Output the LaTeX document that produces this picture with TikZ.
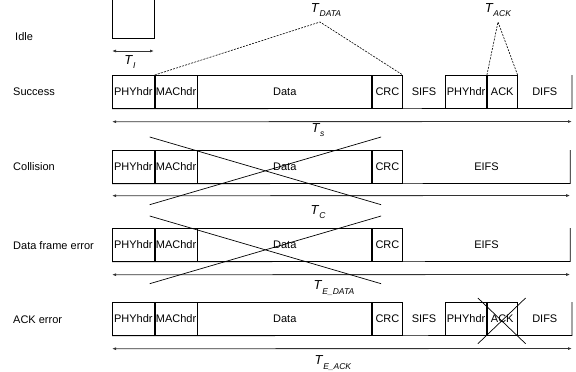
\documentclass[tikz,border=0pt]{standalone}
\usepackage{fontspec}
\setmainfont{Liberation Sans}
\usetikzlibrary{arrows.meta,positioning}

\newcommand{\tlab}[1]{\textit{T}\raisebox{-0.6ex}{\fontsize{8.5}{9}\selectfont\textit{#1}}}

\begin{document}
\begin{tikzpicture}[x=1pt,y=-1pt,>={Latex[length=4pt,width=3pt]},
    field/.style={draw,line width=0.7pt,minimum height=33pt,inner sep=0pt,
                  font=\fontsize{11}{12}\selectfont},
    gap/.style={minimum height=33pt,inner sep=0pt,font=\fontsize{11}{12}\selectfont},
    rowlabel/.style={anchor=west,inner sep=0pt,font=\fontsize{11}{12}\selectfont},
    tlabel/.style={inner sep=0pt,font=\fontsize{13}{14}\selectfont},
    span/.style={<->,line width=0.8pt,black!80},
    cross/.style={line width=0.7pt},
    bracket/.style={line width=0.6pt,dash pattern=on 2pt off 1.2pt}]
    \useasboundingbox (0,0) rectangle (576,372);

    % idle slot
    \node[rowlabel] (l_idle) at (15,37) {Idle};
    \coordinate (i_ta) at (112,-2);
    \coordinate (i_tb) at (154,-2);
    \coordinate (i_a) at (112,38);
    \coordinate (i_b) at (154,38);
    \draw[line width=0.7pt] (i_ta) -- (i_a) -- (i_b) -- (i_tb);
    \draw[span] ([yshift=-13pt]i_a) -- ([yshift=-13pt]i_b);
    \node[tlabel] (t_i) at (130,62) {\tlab{I}};

    % success
    \node[rowlabel] (l_s) at (13,92) {Success};
    \node[field,minimum width=42pt,anchor=north west] (s_phy) at (112,75) {PHYhdr};
    \node[field,minimum width=42pt,right=0pt of s_phy]  (s_mac)  {MAChdr};
    \node[field,minimum width=174pt,right=0pt of s_mac] (s_data) {Data};
    \node[field,minimum width=30pt,right=0pt of s_data] (s_crc)  {CRC};
    \node[gap,minimum width=42pt,right=0pt of s_crc]    (s_sifs) {SIFS};
    \node[field,minimum width=41pt,right=0pt of s_sifs] (s_aphy) {PHYhdr};
    \node[field,minimum width=30pt,right=0pt of s_aphy] (s_ack)  {ACK};
    \node[gap,minimum width=54pt,right=0pt of s_ack]    (s_difs) {DIFS};
    \draw[line width=0.7pt] (s_phy.south west) -- (s_difs.south east) -- (s_difs.north east);
    \draw[span] ([yshift=-13pt]s_phy.south west) -- ([yshift=-13pt]s_difs.south east);
    \node[tlabel] (t_s) at (318,130) {\tlab{s}};

    \node[tlabel] (t_data) at (326,10) {\tlab{DATA}};
    \coordinate (d_top) at (320,22);
    \draw[bracket] (s_mac.north west) -- (d_top) -- (s_crc.north east);
    \node[tlabel] (t_ack) at (498,10) {\tlab{ACK}};
    \coordinate (a_top) at (498,22);
    \draw[bracket] (s_ack.north west) -- (a_top) -- (s_ack.north east);

    % collision
    \node[rowlabel] (l_c) at (13,167) {Collision};
    \node[field,minimum width=42pt,anchor=north west] (c_phy) at (112,150) {PHYhdr};
    \node[field,minimum width=42pt,right=0pt of c_phy]  (c_mac)  {MAChdr};
    \node[field,minimum width=174pt,right=0pt of c_mac] (c_data) {Data};
    \node[field,minimum width=30pt,right=0pt of c_data] (c_crc)  {CRC};
    \node[gap,minimum width=167pt,right=0pt of c_crc]   (c_eifs) {EIFS};
    \draw[line width=0.7pt] (c_phy.south west) -- (c_eifs.south east) -- (c_eifs.north east);
    \draw[span] ([yshift=-12pt]c_phy.south west) -- ([yshift=-12pt]c_eifs.south east);
    \node[tlabel] (t_c) at (318,212) {\tlab{C}};
    \draw[cross] ([shift={(-5pt,13pt)}]c_mac.north west) -- ([shift={(9pt,-21pt)}]c_crc.south west);
    \draw[cross] ([shift={(-5pt,-21pt)}]c_mac.south west) -- ([shift={(9pt,13pt)}]c_crc.north west);

    % data frame error
    \node[rowlabel] (l_d) at (13,246) {Data frame error};
    \node[field,minimum width=42pt,anchor=north west] (d_phy) at (112,228) {PHYhdr};
    \node[field,minimum width=42pt,right=0pt of d_phy]  (d_mac)  {MAChdr};
    \node[field,minimum width=174pt,right=0pt of d_mac] (d_data) {Data};
    \node[field,minimum width=30pt,right=0pt of d_data] (d_crc)  {CRC};
    \node[gap,minimum width=167pt,right=0pt of d_crc]   (d_eifs) {EIFS};
    \draw[line width=0.7pt] (d_phy.south west) -- (d_eifs.south east) -- (d_eifs.north east);
    \draw[span] ([yshift=-13pt]d_phy.south west) -- ([yshift=-13pt]d_eifs.south east);
    \node[tlabel] (t_ed) at (334,288) {\tlab{E\_DATA}};
    \draw[cross] ([shift={(-5pt,12pt)}]d_mac.north west) -- ([shift={(9pt,-22pt)}]d_crc.south west);
    \draw[cross] ([shift={(-5pt,-22pt)}]d_mac.south west) -- ([shift={(9pt,12pt)}]d_crc.north west);

    % ACK error
    \node[rowlabel] (l_a) at (13,320) {ACK error};
    \node[field,minimum width=42pt,anchor=north west] (a_phy) at (112,302) {PHYhdr};
    \node[field,minimum width=42pt,right=0pt of a_phy]  (a_mac)  {MAChdr};
    \node[field,minimum width=174pt,right=0pt of a_mac] (a_data) {Data};
    \node[field,minimum width=30pt,right=0pt of a_data] (a_crc)  {CRC};
    \node[gap,minimum width=42pt,right=0pt of a_crc]    (a_sifs) {SIFS};
    \node[field,minimum width=41pt,right=0pt of a_sifs] (a_aphy) {PHYhdr};
    \node[field,minimum width=30pt,right=0pt of a_aphy] (a_ack)  {ACK};
    \node[gap,minimum width=54pt,right=0pt of a_ack]    (a_difs) {DIFS};
    \draw[line width=0.7pt] (a_phy.south west) -- (a_difs.south east) -- (a_difs.north east);
    \draw[span] ([yshift=-13pt]a_phy.south west) -- ([yshift=-13pt]a_difs.south east);
    \node[tlabel] (t_ea) at (333,363) {\tlab{E\_ACK}};
    \draw[cross] ([shift={(-9pt,4pt)}]a_ack.north west) -- ([shift={(8pt,-8pt)}]a_ack.south east);
    \draw[cross] ([shift={(-9pt,-8pt)}]a_ack.south west) -- ([shift={(8pt,4pt)}]a_ack.north east);
\end{tikzpicture}
\end{document}
